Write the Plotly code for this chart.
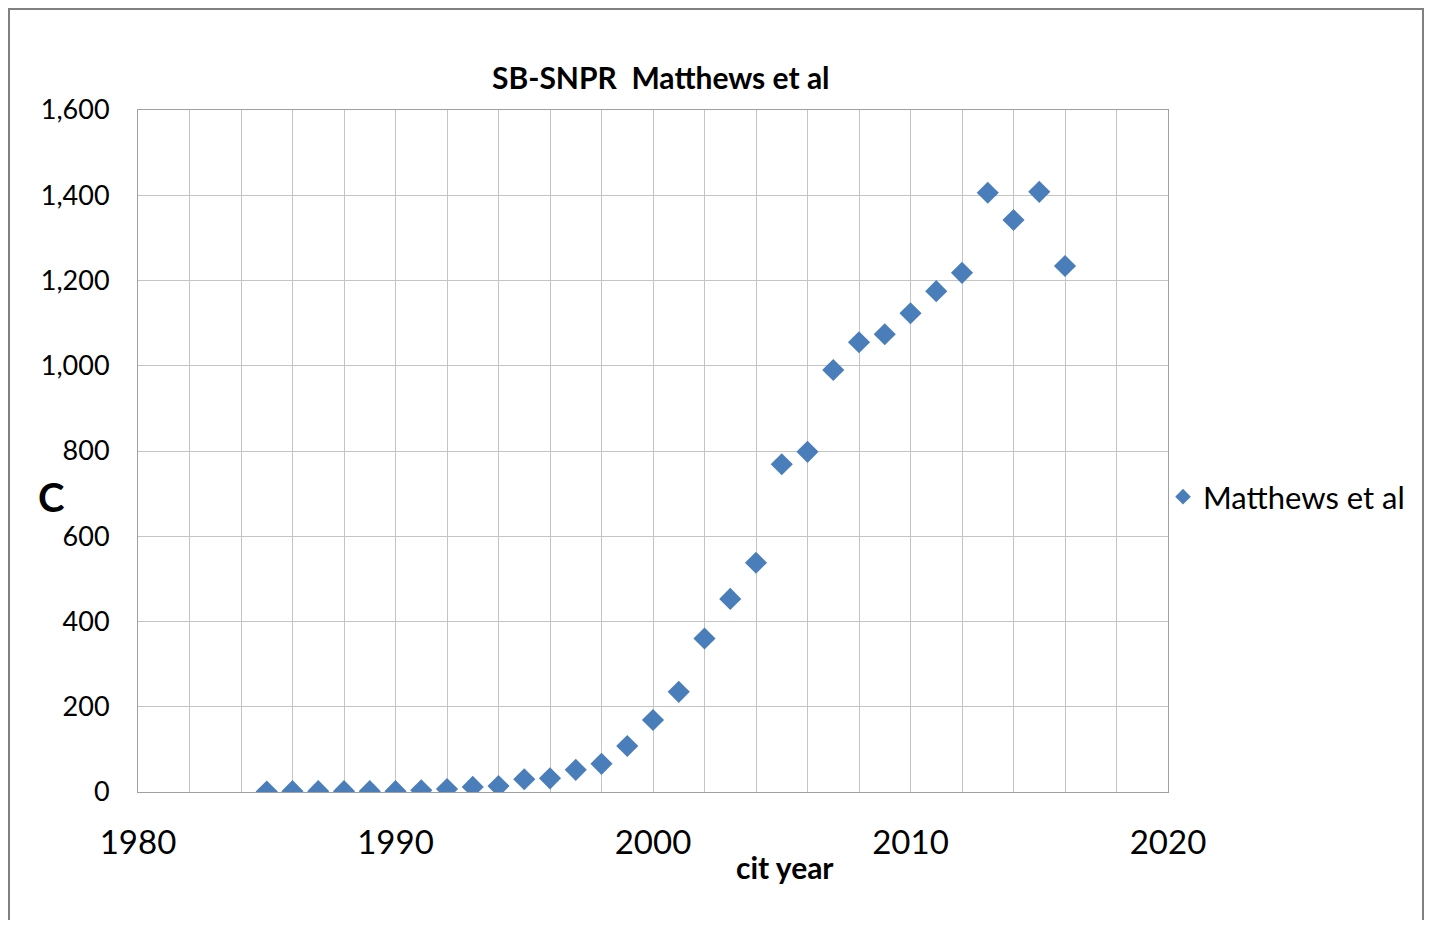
import plotly.graph_objects as go

years = list(range(1985, 2017))
citations = [1, 2, 2, 2, 2, 2, 4, 7, 12, 14, 30, 32, 52, 66, 108, 169,
             235, 360, 453, 538, 769, 798, 990, 1055, 1074, 1123, 1175, 1218,
             1406, 1342, 1408, 1234]
series_name = "Matthews et al"
title_text = "SB-SNPR&nbsp; Matthews et al"
x_title = "cit year"
y_title = "C"

FONT = "Lato, 'Liberation Sans', sans-serif"
GRID = "#c4c4c4"

OFF = 8  # page body margin
L, R, T, B = 138 - OFF, 1168 - OFF, 110 - OFF, 792 - OFF
W, H = 1425 - OFF, 920 - OFF
pw, ph = R - L, B - T

def px_x(p):
    return (p - OFF - L) / pw

def px_y(p):
    return (B - (p - OFF)) / ph

fig = go.Figure()
fig.add_trace(go.Scatter(
    x=years, y=citations, mode="markers", name=series_name,
    marker=dict(symbol="diamond", size=17, color="#4a7ebb"),
))

fig.update_layout(
    width=W, height=H,
    margin=dict(l=L, r=W - R, t=T, b=H - B),
    paper_bgcolor="white", plot_bgcolor="white",
    showlegend=True,
    legend=dict(x=px_x(1163), y=px_y(497), xanchor="left", yanchor="middle",
                font=dict(family=FONT, size=31, color="black"),
                bgcolor="rgba(0,0,0,0)", itemsizing="constant"),
    font=dict(family=FONT, color="black"),
)
fig.update_xaxes(
    range=[1980, 2020], tickvals=[1980, 1990, 2000, 2010, 2020],
    showgrid=True, gridcolor=GRID, gridwidth=1,
    minor=dict(dtick=2, tick0=1980, showgrid=True, gridcolor=GRID, gridwidth=1),
    showline=True, linecolor="#a0a0a0", linewidth=1, mirror=True,
    zeroline=False, ticks="",
    tickfont=dict(family=FONT, size=33, color="black"),
    ticklabelstandoff=21,
)
fig.update_yaxes(
    range=[0, 1600], dtick=200, tickformat=",d",
    showgrid=True, gridcolor=GRID, gridwidth=1,
    showline=True, linecolor="#a0a0a0", linewidth=1, mirror=True,
    zeroline=False, ticks="",
    tickfont=dict(family=FONT, size=27, color="black"),
    ticklabelstandoff=22,
)

fig.add_annotation(text="<b>" + title_text + "</b>", xref="paper", yref="paper",
                   x=px_x(661), y=px_y(77), showarrow=False,
                   xanchor="center", yanchor="middle",
                   font=dict(family=FONT, size=30, color="black"))
fig.add_annotation(text="<b>" + x_title + "</b>", xref="paper", yref="paper",
                   x=px_x(785), y=px_y(867), showarrow=False,
                   xanchor="center", yanchor="middle",
                   font=dict(family=FONT, size=30, color="black"))
fig.add_annotation(text="<b>" + y_title + "</b>", xref="paper", yref="paper",
                   x=px_x(51), y=px_y(497), showarrow=False,
                   xanchor="center", yanchor="middle",
                   font=dict(family=FONT, size=40, color="black"))

fig.add_shape(type="rect", xref="paper", yref="paper",
              x0=px_x(9), x1=px_x(1423), y0=px_y(940), y1=px_y(9),
              line=dict(color="#808080", width=2), fillcolor="rgba(0,0,0,0)",
              layer="below")

fig.write_html("out.html")
